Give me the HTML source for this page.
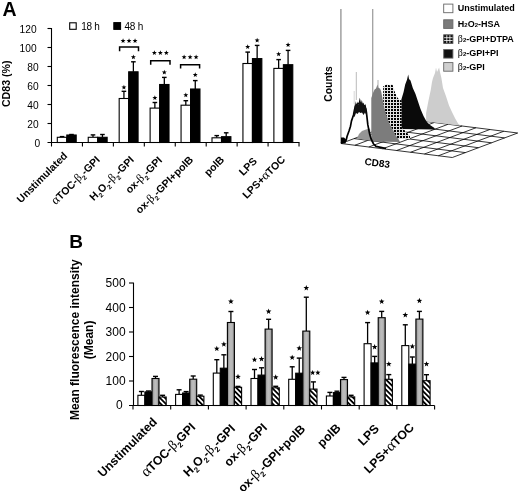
<!DOCTYPE html>
<html><head><meta charset="utf-8"><style>
html,body{margin:0;padding:0;background:#fff;}
svg{display:block;font-family:"Liberation Sans", sans-serif;filter:blur(0.35px);}
</style></head><body>
<svg width="520" height="491" viewBox="0 0 520 491" font-family='"Liberation Sans", sans-serif'>
<rect width="520" height="491" fill="#fff"/>
<defs><pattern id="checker" patternUnits="userSpaceOnUse" width="3" height="3"><rect width="3" height="3" fill="#e0e0e0"/><rect x="1" y="1" width="2" height="2" fill="#000"/></pattern></defs>
<line x1="341.00" y1="143.50" x2="452.30" y2="157.50" stroke="#000" stroke-width="0.8"/>
<line x1="354.08" y1="138.60" x2="465.38" y2="152.60" stroke="#000" stroke-width="0.8"/>
<line x1="367.16" y1="133.70" x2="478.46" y2="147.70" stroke="#000" stroke-width="0.8"/>
<line x1="380.24" y1="128.80" x2="491.54" y2="142.80" stroke="#000" stroke-width="0.8"/>
<line x1="393.32" y1="123.90" x2="504.62" y2="137.90" stroke="#000" stroke-width="0.8"/>
<line x1="406.40" y1="119.00" x2="517.70" y2="133.00" stroke="#000" stroke-width="0.8"/>
<line x1="341.00" y1="143.50" x2="406.40" y2="119.00" stroke="#000" stroke-width="0.8"/>
<line x1="354.91" y1="145.25" x2="420.31" y2="120.75" stroke="#000" stroke-width="0.8"/>
<line x1="368.82" y1="147.00" x2="434.23" y2="122.50" stroke="#000" stroke-width="0.8"/>
<line x1="382.74" y1="148.75" x2="448.14" y2="124.25" stroke="#000" stroke-width="0.8"/>
<line x1="396.65" y1="150.50" x2="462.05" y2="126.00" stroke="#000" stroke-width="0.8"/>
<line x1="410.56" y1="152.25" x2="475.96" y2="127.75" stroke="#000" stroke-width="0.8"/>
<line x1="424.48" y1="154.00" x2="489.88" y2="129.50" stroke="#000" stroke-width="0.8"/>
<line x1="438.39" y1="155.75" x2="503.79" y2="131.25" stroke="#000" stroke-width="0.8"/>
<line x1="452.30" y1="157.50" x2="517.70" y2="133.00" stroke="#000" stroke-width="0.8"/>
<line x1="340.9" y1="9" x2="340.9" y2="143.5" stroke="#999" stroke-width="1.4"/>
<line x1="372.7" y1="9" x2="372.7" y2="100" stroke="#a0a0a0" stroke-width="1.3"/>
<polygon points="426.1,121.5 426.1,113.1 428.4,100.9 430.7,90.2 432,82 433,77.9 435,73 436,67.5 437,72 438,70 439.1,67.5 440,72 441.4,77.9 443,87.9 446,96.3 449,105.5 452.1,112.3 455.2,118.5 458.2,123.8 461,125.8" fill="#cdcdcd"/>
<polygon points="401.3,129 401.3,99.7 403.6,92 405.2,84.4 407,79.8 408.2,74.5 409,79 410.5,80.6 412.8,88 415.5,94 418,101.5 420.5,109 423.5,116 426.5,121.5 430,125 434.5,128 434.5,129.5" fill="#0a0a0a"/>
<polygon points="383.2,139 383.2,86.3 385,85.5 386.5,84 388,84.8 390,85.5 391.5,84 392.5,84.6 393.5,88 395.2,93 397,97 399,99.5 401.5,100.5 401.5,128 404,129.5 407,133 410,135.5 410,139" fill="url(#checker)"/>
<polygon points="371.3,141.5 371.3,97.9 373,93 374.6,89.5 376,88.5 377.5,84.5 378.6,88 380,88.5 381.2,91.5 382.4,98 383.6,105.2 386,114 389.2,123 393,130 395.8,135.6 399,140 400,142" fill="#7c7c7c"/>
<polygon points="357,138.5 359,134 362,131 366,129.5 370,128.5 371.5,141" fill="#959595"/>
<polyline points="341,143.4 346.2,140 347.1,136.3 349,131 350.5,126.2 351.5,120.9 352.5,118 353.5,115 354.5,110 355.5,106 357.5,104 360,103 362.5,104.5 364.5,106 365.8,109 366.5,113 367.8,124.7 369.7,134.3 371.2,139.2 373.6,144 376,146.4 380.8,147.3 386,148.5" fill="none" stroke="#000" stroke-width="1.7" stroke-linejoin="round"/>
<path d="M353.5,116 L354.5,108 L355.2,101 L356,106 L357.2,101.5 L358.2,105 L359.8,97.8 L361,103 L361.8,100 L362.8,104 L363.6,102.5 L364.4,106 L365.5,104 L366.3,108 L366.8,116 L365,112.5 L363.5,115 L362,112.5 L360.5,113 L359,112 L357.5,114 L356,113 L354.5,117 Z" fill="#111"/>
<polygon points="341,137.5 344,137.5 346.5,140 345.5,143.5 341,143.5" fill="#000"/>
<line x1="356.3" y1="72" x2="356.3" y2="100" stroke="#bbb" stroke-width="1"/>
<line x1="354.2" y1="91" x2="354.2" y2="104" stroke="#ccc" stroke-width="0.8"/>
<line x1="378" y1="80" x2="378" y2="88" stroke="#999" stroke-width="0.8"/>
<rect x="443.7" y="4.10" width="9.2" height="8.6" fill="#fff" stroke="#666" stroke-width="0.9"/>
<rect x="443.7" y="19.80" width="9.2" height="8.6" fill="#7a7a7a" stroke="#666" stroke-width="0.9"/>
<rect x="443.7" y="34.80" width="9.2" height="8.6" fill="#111" stroke="#555" stroke-width="0.9"/>
<line x1="446.8" y1="35.20" x2="446.8" y2="43.00" stroke="#fff" stroke-width="0.8"/>
<line x1="449.9" y1="35.20" x2="449.9" y2="43.00" stroke="#fff" stroke-width="0.8"/>
<line x1="444.1" y1="37.70" x2="452.5" y2="37.70" stroke="#fff" stroke-width="0.8"/>
<line x1="444.1" y1="40.50" x2="452.5" y2="40.50" stroke="#fff" stroke-width="0.8"/>
<rect x="443.7" y="49.50" width="9.2" height="8.6" fill="#111" stroke="#666" stroke-width="0.9"/>
<rect x="443.7" y="62.60" width="9.2" height="8.6" fill="#cfcfcf" stroke="#666" stroke-width="0.9"/>
<text id="lg3" x="457.8" y="11.00" font-size="9" font-weight="bold">Unstimulated</text>
<text id="lg19" x="457.8" y="26.70" font-size="9" font-weight="bold"><tspan>H</tspan><tspan font-size="6">2</tspan><tspan>O</tspan><tspan font-size="6">2</tspan><tspan>-HSA</tspan></text>
<text id="lg34" x="457.8" y="41.70" font-size="9" font-weight="bold"><tspan font-family="Liberation Serif, serif" font-weight="normal" font-size="10">β</tspan><tspan font-size="6">2</tspan><tspan>-GPI+DTPA</tspan></text>
<text id="lg49" x="457.8" y="56.40" font-size="9" font-weight="bold"><tspan font-family="Liberation Serif, serif" font-weight="normal" font-size="10">β</tspan><tspan font-size="6">2</tspan><tspan>-GPI+PI</tspan></text>
<text id="lg62" x="457.8" y="69.50" font-size="9" font-weight="bold"><tspan font-family="Liberation Serif, serif" font-weight="normal" font-size="10">β</tspan><tspan font-size="6">2</tspan><tspan>-GPI</tspan></text>
<text id="cnt" transform="translate(332.0,83.9) rotate(-90)" text-anchor="middle" font-size="10.3" font-weight="bold">Counts</text>
<text id="cd" transform="translate(364.2,164.7) rotate(7.4)" font-size="10" font-weight="bold">CD83</text>
<line x1="51.5" y1="28.0" x2="51.5" y2="142.5" stroke="#000" stroke-width="1.1"/>
<line x1="47.5" y1="142.5" x2="299.5" y2="142.5" stroke="#000" stroke-width="1.1"/>
<text id="ya0" x="40.1" y="146.80" text-anchor="end" font-size="10.2" fill="#000">0</text>
<line x1="47.5" y1="123.50" x2="51.5" y2="123.50" stroke="#000" stroke-width="1.1"/>
<text id="ya1" x="38.7" y="127.80" text-anchor="end" font-size="10.2" fill="#000">20</text>
<line x1="47.5" y1="104.50" x2="51.5" y2="104.50" stroke="#000" stroke-width="1.1"/>
<text id="ya2" x="38.7" y="108.80" text-anchor="end" font-size="10.2" fill="#000">40</text>
<line x1="47.5" y1="85.50" x2="51.5" y2="85.50" stroke="#000" stroke-width="1.1"/>
<text id="ya3" x="38.7" y="89.80" text-anchor="end" font-size="10.2" fill="#000">60</text>
<line x1="47.5" y1="66.50" x2="51.5" y2="66.50" stroke="#000" stroke-width="1.1"/>
<text id="ya4" x="38.7" y="70.80" text-anchor="end" font-size="10.2" fill="#000">80</text>
<line x1="47.5" y1="47.50" x2="51.5" y2="47.50" stroke="#000" stroke-width="1.1"/>
<text id="ya5" x="36.6" y="51.80" text-anchor="end" font-size="10.2" fill="#000">100</text>
<line x1="47.5" y1="28.50" x2="51.5" y2="28.50" stroke="#000" stroke-width="1.1"/>
<text id="ya6" x="36.6" y="32.80" text-anchor="end" font-size="10.2" fill="#000">120</text>
<line x1="51.50" y1="142.5" x2="51.50" y2="146.50" stroke="#000" stroke-width="1.1"/>
<line x1="82.44" y1="142.5" x2="82.44" y2="146.50" stroke="#000" stroke-width="1.1"/>
<line x1="113.38" y1="142.5" x2="113.38" y2="146.50" stroke="#000" stroke-width="1.1"/>
<line x1="144.32" y1="142.5" x2="144.32" y2="146.50" stroke="#000" stroke-width="1.1"/>
<line x1="175.26" y1="142.5" x2="175.26" y2="146.50" stroke="#000" stroke-width="1.1"/>
<line x1="206.20" y1="142.5" x2="206.20" y2="146.50" stroke="#000" stroke-width="1.1"/>
<line x1="237.14" y1="142.5" x2="237.14" y2="146.50" stroke="#000" stroke-width="1.1"/>
<line x1="268.08" y1="142.5" x2="268.08" y2="146.50" stroke="#000" stroke-width="1.1"/>
<line x1="299.02" y1="142.5" x2="299.02" y2="146.50" stroke="#000" stroke-width="1.1"/>
<line x1="62.05" y1="136.60" x2="62.05" y2="137.30" stroke="#000" stroke-width="1.3"/><line x1="59.75" y1="136.60" x2="64.35" y2="136.60" stroke="#000" stroke-width="1.4"/>
<line x1="71.50" y1="134.50" x2="71.50" y2="135.00" stroke="#000" stroke-width="1.3"/><line x1="69.20" y1="134.50" x2="73.80" y2="134.50" stroke="#000" stroke-width="1.4"/>
<rect x="57.30" y="137.30" width="9.50" height="5.20" fill="#fff" stroke="#000" stroke-width="1.1"/>
<rect x="66.80" y="135.00" width="9.40" height="7.50" fill="#000" stroke="#000" stroke-width="1.1"/>
<line x1="92.99" y1="134.90" x2="92.99" y2="137.30" stroke="#000" stroke-width="1.3"/><line x1="90.69" y1="134.90" x2="95.29" y2="134.90" stroke="#000" stroke-width="1.4"/>
<line x1="102.44" y1="134.50" x2="102.44" y2="137.30" stroke="#000" stroke-width="1.3"/><line x1="100.14" y1="134.50" x2="104.74" y2="134.50" stroke="#000" stroke-width="1.4"/>
<rect x="88.24" y="137.30" width="9.50" height="5.20" fill="#fff" stroke="#000" stroke-width="1.1"/>
<rect x="97.74" y="137.30" width="9.40" height="5.20" fill="#000" stroke="#000" stroke-width="1.1"/>
<line x1="123.93" y1="91.30" x2="123.93" y2="98.50" stroke="#000" stroke-width="1.3"/><line x1="121.63" y1="91.30" x2="126.23" y2="91.30" stroke="#000" stroke-width="1.4"/>
<line x1="133.38" y1="61.80" x2="133.38" y2="71.80" stroke="#000" stroke-width="1.3"/><line x1="131.08" y1="61.80" x2="135.68" y2="61.80" stroke="#000" stroke-width="1.4"/>
<rect x="119.18" y="98.50" width="9.50" height="44.00" fill="#fff" stroke="#000" stroke-width="1.1"/>
<rect x="128.68" y="71.80" width="9.40" height="70.70" fill="#000" stroke="#000" stroke-width="1.1"/>
<polygon points="123.93,84.70 124.57,86.42 126.40,86.50 124.97,87.64 125.46,89.40 123.93,88.39 122.40,89.40 122.89,87.64 121.46,86.50 123.29,86.42" fill="#000"/>
<polygon points="133.38,54.50 134.02,56.22 135.85,56.30 134.42,57.44 134.91,59.20 133.38,58.19 131.85,59.20 132.34,57.44 130.91,56.30 132.74,56.22" fill="#000"/>
<line x1="154.87" y1="102.50" x2="154.87" y2="108.10" stroke="#000" stroke-width="1.3"/><line x1="152.57" y1="102.50" x2="157.17" y2="102.50" stroke="#000" stroke-width="1.4"/>
<line x1="164.32" y1="77.40" x2="164.32" y2="84.50" stroke="#000" stroke-width="1.3"/><line x1="162.02" y1="77.40" x2="166.62" y2="77.40" stroke="#000" stroke-width="1.4"/>
<rect x="150.12" y="108.10" width="9.50" height="34.40" fill="#fff" stroke="#000" stroke-width="1.1"/>
<rect x="159.62" y="84.50" width="9.40" height="58.00" fill="#000" stroke="#000" stroke-width="1.1"/>
<polygon points="154.87,95.20 155.51,96.92 157.34,97.00 155.91,98.14 156.40,99.90 154.87,98.89 153.34,99.90 153.83,98.14 152.40,97.00 154.23,96.92" fill="#000"/>
<polygon points="164.32,69.80 164.96,71.52 166.79,71.60 165.36,72.74 165.85,74.50 164.32,73.49 162.79,74.50 163.28,72.74 161.85,71.60 163.68,71.52" fill="#000"/>
<line x1="185.81" y1="100.70" x2="185.81" y2="105.20" stroke="#000" stroke-width="1.3"/><line x1="183.51" y1="100.70" x2="188.11" y2="100.70" stroke="#000" stroke-width="1.4"/>
<line x1="195.26" y1="80.60" x2="195.26" y2="89.00" stroke="#000" stroke-width="1.3"/><line x1="192.96" y1="80.60" x2="197.56" y2="80.60" stroke="#000" stroke-width="1.4"/>
<rect x="181.06" y="105.20" width="9.50" height="37.30" fill="#fff" stroke="#000" stroke-width="1.1"/>
<rect x="190.56" y="89.00" width="9.40" height="53.50" fill="#000" stroke="#000" stroke-width="1.1"/>
<polygon points="185.81,92.50 186.45,94.22 188.28,94.30 186.85,95.44 187.34,97.20 185.81,96.19 184.28,97.20 184.77,95.44 183.34,94.30 185.17,94.22" fill="#000"/>
<polygon points="195.26,72.30 195.90,74.02 197.73,74.10 196.30,75.24 196.79,77.00 195.26,75.99 193.73,77.00 194.22,75.24 192.79,74.10 194.62,74.02" fill="#000"/>
<line x1="216.75" y1="135.60" x2="216.75" y2="137.80" stroke="#000" stroke-width="1.3"/><line x1="214.45" y1="135.60" x2="219.05" y2="135.60" stroke="#000" stroke-width="1.4"/>
<line x1="226.20" y1="132.80" x2="226.20" y2="136.70" stroke="#000" stroke-width="1.3"/><line x1="223.90" y1="132.80" x2="228.50" y2="132.80" stroke="#000" stroke-width="1.4"/>
<rect x="212.00" y="137.80" width="9.50" height="4.70" fill="#fff" stroke="#000" stroke-width="1.1"/>
<rect x="221.50" y="136.70" width="9.40" height="5.80" fill="#000" stroke="#000" stroke-width="1.1"/>
<line x1="247.69" y1="52.10" x2="247.69" y2="63.50" stroke="#000" stroke-width="1.3"/><line x1="245.39" y1="52.10" x2="249.99" y2="52.10" stroke="#000" stroke-width="1.4"/>
<line x1="257.14" y1="45.40" x2="257.14" y2="58.60" stroke="#000" stroke-width="1.3"/><line x1="254.84" y1="45.40" x2="259.44" y2="45.40" stroke="#000" stroke-width="1.4"/>
<rect x="242.94" y="63.50" width="9.50" height="79.00" fill="#fff" stroke="#000" stroke-width="1.1"/>
<rect x="252.44" y="58.60" width="9.40" height="83.90" fill="#000" stroke="#000" stroke-width="1.1"/>
<polygon points="247.69,44.20 248.33,45.92 250.16,46.00 248.73,47.14 249.22,48.90 247.69,47.89 246.16,48.90 246.65,47.14 245.22,46.00 247.05,45.92" fill="#000"/>
<polygon points="257.14,37.70 257.78,39.42 259.61,39.50 258.18,40.64 258.67,42.40 257.14,41.39 255.61,42.40 256.10,40.64 254.67,39.50 256.50,39.42" fill="#000"/>
<line x1="278.63" y1="59.60" x2="278.63" y2="68.40" stroke="#000" stroke-width="1.3"/><line x1="276.33" y1="59.60" x2="280.93" y2="59.60" stroke="#000" stroke-width="1.4"/>
<line x1="288.08" y1="50.40" x2="288.08" y2="64.70" stroke="#000" stroke-width="1.3"/><line x1="285.78" y1="50.40" x2="290.38" y2="50.40" stroke="#000" stroke-width="1.4"/>
<rect x="273.88" y="68.40" width="9.50" height="74.10" fill="#fff" stroke="#000" stroke-width="1.1"/>
<rect x="283.38" y="64.70" width="9.40" height="77.80" fill="#000" stroke="#000" stroke-width="1.1"/>
<polygon points="278.63,51.50 279.27,53.22 281.10,53.30 279.67,54.44 280.16,56.20 278.63,55.19 277.10,56.20 277.59,54.44 276.16,53.30 277.99,53.22" fill="#000"/>
<polygon points="288.08,42.30 288.72,44.02 290.55,44.10 289.12,45.24 289.61,47.00 288.08,45.99 286.55,47.00 287.04,45.24 285.61,44.10 287.44,44.02" fill="#000"/>
<polyline points="119.6,51.3 119.6,47.1 138.5,47.1 138.5,51.3" fill="none" stroke="#000" stroke-width="1.5"/>
<polygon points="123.05,38.20 123.69,39.92 125.52,40.00 124.09,41.14 124.58,42.90 123.05,41.89 121.52,42.90 122.01,41.14 120.58,40.00 122.41,39.92" fill="#000"/>
<polygon points="129.05,38.20 129.69,39.92 131.52,40.00 130.09,41.14 130.58,42.90 129.05,41.89 127.52,42.90 128.01,41.14 126.58,40.00 128.41,39.92" fill="#000"/>
<polygon points="135.05,38.20 135.69,39.92 137.52,40.00 136.09,41.14 136.58,42.90 135.05,41.89 133.52,42.90 134.01,41.14 132.58,40.00 134.41,39.92" fill="#000"/>
<polyline points="150.7,64.7 150.7,60.7 170.0,60.7 170.0,64.7" fill="none" stroke="#000" stroke-width="1.5"/>
<polygon points="154.35,50.20 154.99,51.92 156.82,52.00 155.39,53.14 155.88,54.90 154.35,53.89 152.82,54.90 153.31,53.14 151.88,52.00 153.71,51.92" fill="#000"/>
<polygon points="160.35,50.20 160.99,51.92 162.82,52.00 161.39,53.14 161.88,54.90 160.35,53.89 158.82,54.90 159.31,53.14 157.88,52.00 159.71,51.92" fill="#000"/>
<polygon points="166.35,50.20 166.99,51.92 168.82,52.00 167.39,53.14 167.88,54.90 166.35,53.89 164.82,54.90 165.31,53.14 163.88,52.00 165.71,51.92" fill="#000"/>
<polyline points="180.6,68.5 180.6,64.7 199.6,64.7 199.6,68.5" fill="none" stroke="#000" stroke-width="1.5"/>
<polygon points="184.10,54.50 184.74,56.22 186.57,56.30 185.14,57.44 185.63,59.20 184.10,58.19 182.57,59.20 183.06,57.44 181.63,56.30 183.46,56.22" fill="#000"/>
<polygon points="190.10,54.50 190.74,56.22 192.57,56.30 191.14,57.44 191.63,59.20 190.10,58.19 188.57,59.20 189.06,57.44 187.63,56.30 189.46,56.22" fill="#000"/>
<polygon points="196.10,54.50 196.74,56.22 198.57,56.30 197.14,57.44 197.63,59.20 196.10,58.19 194.57,59.20 195.06,57.44 193.63,56.30 195.46,56.22" fill="#000"/>
<rect x="69.7" y="22.8" width="6.5" height="6.5" fill="#fff" stroke="#000" stroke-width="1.1"/>
<text id="l18" x="81.2" y="29.5" font-size="10" letter-spacing="-0.25">18 h</text>
<rect x="113.8" y="22.6" width="6.8" height="6.8" fill="#000" stroke="#000" stroke-width="1"/>
<text id="l48" x="124.5" y="29.5" font-size="10" letter-spacing="-0.25">48 h</text>
<text id="tA" x="2.5" y="15.6" font-size="19.5" font-weight="bold">A</text>
<text id="yA" transform="translate(9.6,83.8) rotate(-90)" text-anchor="middle" font-size="10.6" font-weight="bold">CD83 (%)</text>
<text id="la0" transform="translate(68.12,156.40) rotate(-45)" text-anchor="end" font-size="10.5" font-weight="bold"><tspan>Unstimulated</tspan></text>
<text id="la1" transform="translate(100.61,160.55) rotate(-45)" text-anchor="end" font-size="10.5" font-weight="bold"><tspan font-family="Liberation Serif, serif" font-weight="normal" font-size="12.81">α</tspan><tspan>TOC-</tspan><tspan font-family="Liberation Serif, serif" font-weight="normal" font-size="11.69">β</tspan><tspan dy="2.94" font-size="6.51">2</tspan><tspan dy="-2.94">-GPI</tspan></text>
<text id="la2" transform="translate(134.65,160.55) rotate(-45)" text-anchor="end" font-size="10.5" font-weight="bold"><tspan>H</tspan><tspan dy="2.94" font-size="6.51">2</tspan><tspan dy="-2.94">O</tspan><tspan dy="2.94" font-size="6.51">2</tspan><tspan dy="-2.94">-</tspan><tspan font-family="Liberation Serif, serif" font-weight="normal" font-size="11.69">β</tspan><tspan dy="2.94" font-size="6.51">2</tspan><tspan dy="-2.94">-GPI</tspan></text>
<text id="la3" transform="translate(162.89,160.85) rotate(-45)" text-anchor="end" font-size="10.5" font-weight="bold"><tspan>ox-</tspan><tspan font-family="Liberation Serif, serif" font-weight="normal" font-size="11.69">β</tspan><tspan dy="2.94" font-size="6.51">2</tspan><tspan dy="-2.94">-GPI</tspan></text>
<text id="la4" transform="translate(193.88,160.35) rotate(-45)" text-anchor="end" font-size="10.5" font-weight="bold"><tspan>ox-</tspan><tspan font-family="Liberation Serif, serif" font-weight="normal" font-size="11.69">β</tspan><tspan dy="2.94" font-size="6.51">2</tspan><tspan dy="-2.94">-GPI+polB</tspan></text>
<text id="la5" transform="translate(224.92,160.30) rotate(-45)" text-anchor="end" font-size="10.5" font-weight="bold"><tspan>polB</tspan></text>
<text id="la6" transform="translate(257.61,161.75) rotate(-45)" text-anchor="end" font-size="10.5" font-weight="bold"><tspan>LPS</tspan></text>
<text id="la7" transform="translate(285.90,160.20) rotate(-45)" text-anchor="end" font-size="10.5" font-weight="bold"><tspan>LPS+</tspan><tspan font-family="Liberation Serif, serif" font-weight="normal" font-size="12.81">α</tspan><tspan>TOC</tspan></text>
<defs><linearGradient id="gbar" x1="0" y1="0" x2="1" y2="0"><stop offset="0" stop-color="#7a7a7a"/><stop offset="0.28" stop-color="#b4b4b4"/><stop offset="0.5" stop-color="#bdbdbd"/><stop offset="0.72" stop-color="#b4b4b4"/><stop offset="1" stop-color="#7a7a7a"/></linearGradient><pattern id="hatch" patternUnits="userSpaceOnUse" width="3.6" height="3.6" patternTransform="rotate(-45)"><rect width="3.6" height="3.6" fill="#fff"/><rect width="1.8" height="3.6" fill="#000"/></pattern></defs>
<line x1="133.5" y1="282.50" x2="133.5" y2="405.5" stroke="#000" stroke-width="1.1"/>
<line x1="129" y1="405.5" x2="434.6" y2="405.5" stroke="#000" stroke-width="1.1"/>
<text id="yb0" x="122.6" y="409.10" text-anchor="end" font-size="12">0</text>
<line x1="129" y1="381.00" x2="133" y2="381.00" stroke="#000" stroke-width="1.1"/>
<text id="yb1" x="125.6" y="385.30" text-anchor="end" font-size="12">100</text>
<line x1="129" y1="356.50" x2="133" y2="356.50" stroke="#000" stroke-width="1.1"/>
<text id="yb2" x="125.6" y="360.80" text-anchor="end" font-size="12">200</text>
<line x1="129" y1="332.00" x2="133" y2="332.00" stroke="#000" stroke-width="1.1"/>
<text id="yb3" x="125.6" y="336.30" text-anchor="end" font-size="12">300</text>
<line x1="129" y1="307.50" x2="133" y2="307.50" stroke="#000" stroke-width="1.1"/>
<text id="yb4" x="125.6" y="311.80" text-anchor="end" font-size="12">400</text>
<line x1="129" y1="283.00" x2="133" y2="283.00" stroke="#000" stroke-width="1.1"/>
<text id="yb5" x="125.6" y="287.30" text-anchor="end" font-size="12">500</text>
<line x1="133.00" y1="405.5" x2="133.00" y2="409.50" stroke="#000" stroke-width="1.1"/>
<line x1="170.70" y1="405.5" x2="170.70" y2="409.50" stroke="#000" stroke-width="1.1"/>
<line x1="208.40" y1="405.5" x2="208.40" y2="409.50" stroke="#000" stroke-width="1.1"/>
<line x1="246.10" y1="405.5" x2="246.10" y2="409.50" stroke="#000" stroke-width="1.1"/>
<line x1="283.80" y1="405.5" x2="283.80" y2="409.50" stroke="#000" stroke-width="1.1"/>
<line x1="321.50" y1="405.5" x2="321.50" y2="409.50" stroke="#000" stroke-width="1.1"/>
<line x1="359.20" y1="405.5" x2="359.20" y2="409.50" stroke="#000" stroke-width="1.1"/>
<line x1="396.90" y1="405.5" x2="396.90" y2="409.50" stroke="#000" stroke-width="1.1"/>
<line x1="434.60" y1="405.5" x2="434.60" y2="409.50" stroke="#000" stroke-width="1.1"/>
<line x1="141.40" y1="391.50" x2="141.40" y2="395.30" stroke="#000" stroke-width="1.3"/><line x1="138.90" y1="391.50" x2="143.90" y2="391.50" stroke="#000" stroke-width="1.4"/>
<rect x="137.90" y="395.30" width="7.00" height="10.20" fill="#fff" stroke="#000" stroke-width="1.1"/>
<line x1="148.45" y1="391.00" x2="148.45" y2="391.90" stroke="#000" stroke-width="1.3"/><line x1="145.95" y1="391.00" x2="150.95" y2="391.00" stroke="#000" stroke-width="1.4"/>
<rect x="144.90" y="391.90" width="7.10" height="13.60" fill="#000" stroke="#000" stroke-width="1.1"/>
<line x1="155.50" y1="376.40" x2="155.50" y2="378.50" stroke="#000" stroke-width="1.3"/><line x1="153.00" y1="376.40" x2="158.00" y2="376.40" stroke="#000" stroke-width="1.4"/>
<rect x="152.00" y="378.50" width="7.00" height="27.00" fill="url(#gbar)" stroke="#000" stroke-width="1.1"/>
<line x1="162.60" y1="395.30" x2="162.60" y2="397.00" stroke="#000" stroke-width="1.3"/><line x1="160.10" y1="395.30" x2="165.10" y2="395.30" stroke="#000" stroke-width="1.4"/>
<rect x="159.00" y="397.00" width="7.20" height="8.50" fill="url(#hatch)" stroke="#000" stroke-width="1.1"/>
<line x1="179.10" y1="389.80" x2="179.10" y2="394.40" stroke="#000" stroke-width="1.3"/><line x1="176.60" y1="389.80" x2="181.60" y2="389.80" stroke="#000" stroke-width="1.4"/>
<rect x="175.60" y="394.40" width="7.00" height="11.10" fill="#fff" stroke="#000" stroke-width="1.1"/>
<line x1="186.15" y1="391.60" x2="186.15" y2="393.00" stroke="#000" stroke-width="1.3"/><line x1="183.65" y1="391.60" x2="188.65" y2="391.60" stroke="#000" stroke-width="1.4"/>
<rect x="182.60" y="393.00" width="7.10" height="12.50" fill="#000" stroke="#000" stroke-width="1.1"/>
<line x1="193.20" y1="376.00" x2="193.20" y2="379.20" stroke="#000" stroke-width="1.3"/><line x1="190.70" y1="376.00" x2="195.70" y2="376.00" stroke="#000" stroke-width="1.4"/>
<rect x="189.70" y="379.20" width="7.00" height="26.30" fill="url(#gbar)" stroke="#000" stroke-width="1.1"/>
<line x1="200.30" y1="395.10" x2="200.30" y2="396.20" stroke="#000" stroke-width="1.3"/><line x1="197.80" y1="395.10" x2="202.80" y2="395.10" stroke="#000" stroke-width="1.4"/>
<rect x="196.70" y="396.20" width="7.20" height="9.30" fill="url(#hatch)" stroke="#000" stroke-width="1.1"/>
<line x1="216.80" y1="359.70" x2="216.80" y2="373.10" stroke="#000" stroke-width="1.3"/><line x1="214.30" y1="359.70" x2="219.30" y2="359.70" stroke="#000" stroke-width="1.4"/>
<rect x="213.30" y="373.10" width="7.00" height="32.40" fill="#fff" stroke="#000" stroke-width="1.1"/>
<polygon points="216.80,345.75 217.53,347.70 219.61,347.79 217.98,349.08 218.53,351.09 216.80,349.94 215.07,351.09 215.62,349.08 213.99,347.79 216.07,347.70" fill="#000"/>
<line x1="223.85" y1="354.80" x2="223.85" y2="368.20" stroke="#000" stroke-width="1.3"/><line x1="221.35" y1="354.80" x2="226.35" y2="354.80" stroke="#000" stroke-width="1.4"/>
<rect x="220.30" y="368.20" width="7.10" height="37.30" fill="#000" stroke="#000" stroke-width="1.1"/>
<polygon points="223.85,341.35 224.58,343.30 226.66,343.39 225.03,344.68 225.58,346.69 223.85,345.54 222.12,346.69 222.67,344.68 221.04,343.39 223.12,343.30" fill="#000"/>
<line x1="230.90" y1="311.50" x2="230.90" y2="322.50" stroke="#000" stroke-width="1.3"/><line x1="228.40" y1="311.50" x2="233.40" y2="311.50" stroke="#000" stroke-width="1.4"/>
<rect x="227.40" y="322.50" width="7.00" height="83.00" fill="url(#gbar)" stroke="#000" stroke-width="1.1"/>
<polygon points="230.90,298.55 231.63,300.50 233.71,300.59 232.08,301.88 232.63,303.89 230.90,302.74 229.17,303.89 229.72,301.88 228.09,300.59 230.17,300.50" fill="#000"/>
<line x1="238.00" y1="386.40" x2="238.00" y2="387.30" stroke="#000" stroke-width="1.3"/><line x1="235.50" y1="386.40" x2="240.50" y2="386.40" stroke="#000" stroke-width="1.4"/>
<rect x="234.40" y="387.30" width="7.20" height="18.20" fill="url(#hatch)" stroke="#000" stroke-width="1.1"/>
<polygon points="238.00,373.85 238.73,375.80 240.81,375.89 239.18,377.18 239.73,379.19 238.00,378.04 236.27,379.19 236.82,377.18 235.19,375.89 237.27,375.80" fill="#000"/>
<line x1="254.50" y1="369.50" x2="254.50" y2="378.50" stroke="#000" stroke-width="1.3"/><line x1="252.00" y1="369.50" x2="257.00" y2="369.50" stroke="#000" stroke-width="1.4"/>
<rect x="251.00" y="378.50" width="7.00" height="27.00" fill="#fff" stroke="#000" stroke-width="1.1"/>
<polygon points="254.50,356.75 255.23,358.70 257.31,358.79 255.68,360.08 256.23,362.09 254.50,360.94 252.77,362.09 253.32,360.08 251.69,358.79 253.77,358.70" fill="#000"/>
<line x1="261.55" y1="367.80" x2="261.55" y2="375.10" stroke="#000" stroke-width="1.3"/><line x1="259.05" y1="367.80" x2="264.05" y2="367.80" stroke="#000" stroke-width="1.4"/>
<rect x="258.00" y="375.10" width="7.10" height="30.40" fill="#000" stroke="#000" stroke-width="1.1"/>
<polygon points="261.55,356.05 262.28,358.00 264.36,358.09 262.73,359.38 263.28,361.39 261.55,360.24 259.82,361.39 260.37,359.38 258.74,358.09 260.82,358.00" fill="#000"/>
<line x1="268.60" y1="319.30" x2="268.60" y2="329.10" stroke="#000" stroke-width="1.3"/><line x1="266.10" y1="319.30" x2="271.10" y2="319.30" stroke="#000" stroke-width="1.4"/>
<rect x="265.10" y="329.10" width="7.00" height="76.40" fill="url(#gbar)" stroke="#000" stroke-width="1.1"/>
<polygon points="268.60,308.55 269.33,310.50 271.41,310.59 269.78,311.88 270.33,313.89 268.60,312.74 266.87,313.89 267.42,311.88 265.79,310.59 267.87,310.50" fill="#000"/>
<line x1="275.70" y1="386.30" x2="275.70" y2="387.80" stroke="#000" stroke-width="1.3"/><line x1="273.20" y1="386.30" x2="278.20" y2="386.30" stroke="#000" stroke-width="1.4"/>
<rect x="272.10" y="387.80" width="7.20" height="17.70" fill="url(#hatch)" stroke="#000" stroke-width="1.1"/>
<polygon points="275.70,374.35 276.43,376.30 278.51,376.39 276.88,377.68 277.43,379.69 275.70,378.54 273.97,379.69 274.52,377.68 272.89,376.39 274.97,376.30" fill="#000"/>
<line x1="292.20" y1="366.80" x2="292.20" y2="379.30" stroke="#000" stroke-width="1.3"/><line x1="289.70" y1="366.80" x2="294.70" y2="366.80" stroke="#000" stroke-width="1.4"/>
<rect x="288.70" y="379.30" width="7.00" height="26.20" fill="#fff" stroke="#000" stroke-width="1.1"/>
<polygon points="292.20,354.65 292.93,356.60 295.01,356.69 293.38,357.98 293.93,359.99 292.20,358.84 290.47,359.99 291.02,357.98 289.39,356.69 291.47,356.60" fill="#000"/>
<line x1="299.25" y1="358.10" x2="299.25" y2="373.20" stroke="#000" stroke-width="1.3"/><line x1="296.75" y1="358.10" x2="301.75" y2="358.10" stroke="#000" stroke-width="1.4"/>
<rect x="295.70" y="373.20" width="7.10" height="32.30" fill="#000" stroke="#000" stroke-width="1.1"/>
<polygon points="299.25,345.35 299.98,347.30 302.06,347.39 300.43,348.68 300.98,350.69 299.25,349.54 297.52,350.69 298.07,348.68 296.44,347.39 298.52,347.30" fill="#000"/>
<line x1="306.30" y1="297.20" x2="306.30" y2="331.10" stroke="#000" stroke-width="1.3"/><line x1="303.80" y1="297.20" x2="308.80" y2="297.20" stroke="#000" stroke-width="1.4"/>
<rect x="302.80" y="331.10" width="7.00" height="74.40" fill="url(#gbar)" stroke="#000" stroke-width="1.1"/>
<polygon points="306.30,285.05 307.03,287.00 309.11,287.09 307.48,288.38 308.03,290.39 306.30,289.24 304.57,290.39 305.12,288.38 303.49,287.09 305.57,287.00" fill="#000"/>
<line x1="313.40" y1="381.90" x2="313.40" y2="389.10" stroke="#000" stroke-width="1.3"/><line x1="310.90" y1="381.90" x2="315.90" y2="381.90" stroke="#000" stroke-width="1.4"/>
<rect x="309.80" y="389.10" width="7.20" height="16.40" fill="url(#hatch)" stroke="#000" stroke-width="1.1"/>
<polygon points="312.65,369.90 313.34,371.75 315.31,371.83 313.77,373.06 314.30,374.97 312.65,373.88 311.00,374.97 311.53,373.06 309.99,371.83 311.96,371.75" fill="#000"/>
<polygon points="317.85,369.90 318.54,371.75 320.51,371.83 318.97,373.06 319.50,374.97 317.85,373.88 316.20,374.97 316.73,373.06 315.19,371.83 317.16,371.75" fill="#000"/>
<line x1="329.90" y1="392.40" x2="329.90" y2="396.00" stroke="#000" stroke-width="1.3"/><line x1="327.40" y1="392.40" x2="332.40" y2="392.40" stroke="#000" stroke-width="1.4"/>
<rect x="326.40" y="396.00" width="7.00" height="9.50" fill="#fff" stroke="#000" stroke-width="1.1"/>
<line x1="336.95" y1="391.20" x2="336.95" y2="392.60" stroke="#000" stroke-width="1.3"/><line x1="334.45" y1="391.20" x2="339.45" y2="391.20" stroke="#000" stroke-width="1.4"/>
<rect x="333.40" y="392.60" width="7.10" height="12.90" fill="#000" stroke="#000" stroke-width="1.1"/>
<line x1="344.00" y1="377.40" x2="344.00" y2="379.60" stroke="#000" stroke-width="1.3"/><line x1="341.50" y1="377.40" x2="346.50" y2="377.40" stroke="#000" stroke-width="1.4"/>
<rect x="340.50" y="379.60" width="7.00" height="25.90" fill="url(#gbar)" stroke="#000" stroke-width="1.1"/>
<line x1="351.10" y1="395.30" x2="351.10" y2="396.90" stroke="#000" stroke-width="1.3"/><line x1="348.60" y1="395.30" x2="353.60" y2="395.30" stroke="#000" stroke-width="1.4"/>
<rect x="347.50" y="396.90" width="7.20" height="8.60" fill="url(#hatch)" stroke="#000" stroke-width="1.1"/>
<line x1="367.60" y1="322.60" x2="367.60" y2="343.70" stroke="#000" stroke-width="1.3"/><line x1="365.10" y1="322.60" x2="370.10" y2="322.60" stroke="#000" stroke-width="1.4"/>
<rect x="364.10" y="343.70" width="7.00" height="61.80" fill="#fff" stroke="#000" stroke-width="1.1"/>
<polygon points="367.60,309.65 368.33,311.60 370.41,311.69 368.78,312.98 369.33,314.99 367.60,313.84 365.87,314.99 366.42,312.98 364.79,311.69 366.87,311.60" fill="#000"/>
<line x1="374.65" y1="356.40" x2="374.65" y2="362.90" stroke="#000" stroke-width="1.3"/><line x1="372.15" y1="356.40" x2="377.15" y2="356.40" stroke="#000" stroke-width="1.4"/>
<rect x="371.10" y="362.90" width="7.10" height="42.60" fill="#000" stroke="#000" stroke-width="1.1"/>
<polygon points="374.65,344.05 375.38,346.00 377.46,346.09 375.83,347.38 376.38,349.39 374.65,348.24 372.92,349.39 373.47,347.38 371.84,346.09 373.92,346.00" fill="#000"/>
<line x1="381.70" y1="311.40" x2="381.70" y2="317.70" stroke="#000" stroke-width="1.3"/><line x1="379.20" y1="311.40" x2="384.20" y2="311.40" stroke="#000" stroke-width="1.4"/>
<rect x="378.20" y="317.70" width="7.00" height="87.80" fill="url(#gbar)" stroke="#000" stroke-width="1.1"/>
<polygon points="381.70,298.65 382.43,300.60 384.51,300.69 382.88,301.98 383.43,303.99 381.70,302.84 379.97,303.99 380.52,301.98 378.89,300.69 380.97,300.60" fill="#000"/>
<line x1="388.80" y1="374.60" x2="388.80" y2="379.30" stroke="#000" stroke-width="1.3"/><line x1="386.30" y1="374.60" x2="391.30" y2="374.60" stroke="#000" stroke-width="1.4"/>
<rect x="385.20" y="379.30" width="7.20" height="26.20" fill="url(#hatch)" stroke="#000" stroke-width="1.1"/>
<polygon points="388.80,361.15 389.53,363.10 391.61,363.19 389.98,364.48 390.53,366.49 388.80,365.34 387.07,366.49 387.62,364.48 385.99,363.19 388.07,363.10" fill="#000"/>
<line x1="405.30" y1="324.80" x2="405.30" y2="345.60" stroke="#000" stroke-width="1.3"/><line x1="402.80" y1="324.80" x2="407.80" y2="324.80" stroke="#000" stroke-width="1.4"/>
<rect x="401.80" y="345.60" width="7.00" height="59.90" fill="#fff" stroke="#000" stroke-width="1.1"/>
<polygon points="405.30,312.05 406.03,314.00 408.11,314.09 406.48,315.38 407.03,317.39 405.30,316.24 403.57,317.39 404.12,315.38 402.49,314.09 404.57,314.00" fill="#000"/>
<line x1="412.35" y1="357.00" x2="412.35" y2="364.10" stroke="#000" stroke-width="1.3"/><line x1="409.85" y1="357.00" x2="414.85" y2="357.00" stroke="#000" stroke-width="1.4"/>
<rect x="408.80" y="364.10" width="7.10" height="41.40" fill="#000" stroke="#000" stroke-width="1.1"/>
<polygon points="412.35,343.45 413.08,345.40 415.16,345.49 413.53,346.78 414.08,348.79 412.35,347.64 410.62,348.79 411.17,346.78 409.54,345.49 411.62,345.40" fill="#000"/>
<line x1="419.40" y1="311.40" x2="419.40" y2="319.10" stroke="#000" stroke-width="1.3"/><line x1="416.90" y1="311.40" x2="421.90" y2="311.40" stroke="#000" stroke-width="1.4"/>
<rect x="415.90" y="319.10" width="7.00" height="86.40" fill="url(#gbar)" stroke="#000" stroke-width="1.1"/>
<polygon points="419.40,297.85 420.13,299.80 422.21,299.89 420.58,301.18 421.13,303.19 419.40,302.04 417.67,303.19 418.22,301.18 416.59,299.89 418.67,299.80" fill="#000"/>
<line x1="426.50" y1="374.70" x2="426.50" y2="380.70" stroke="#000" stroke-width="1.3"/><line x1="424.00" y1="374.70" x2="429.00" y2="374.70" stroke="#000" stroke-width="1.4"/>
<rect x="422.90" y="380.70" width="7.20" height="24.80" fill="url(#hatch)" stroke="#000" stroke-width="1.1"/>
<polygon points="426.50,361.15 427.23,363.10 429.31,363.19 427.68,364.48 428.23,366.49 426.50,365.34 424.77,366.49 425.32,364.48 423.69,363.19 425.77,363.10" fill="#000"/>
<text id="lb0" transform="translate(157.75,422.65) rotate(-45)" text-anchor="end" font-size="12.3" font-weight="bold"><tspan>Unstimulated</tspan></text>
<text id="lb1" transform="translate(196.10,427.90) rotate(-45)" text-anchor="end" font-size="12.3" font-weight="bold"><tspan font-family="Liberation Serif, serif" font-weight="normal" font-size="15.01">α</tspan><tspan>TOC-</tspan><tspan font-family="Liberation Serif, serif" font-weight="normal" font-size="13.69">β</tspan><tspan dy="3.44" font-size="7.63">2</tspan><tspan dy="-3.44">GPI</tspan></text>
<text id="lb2" transform="translate(236.00,429.35) rotate(-45)" text-anchor="end" font-size="12.3" font-weight="bold"><tspan>H</tspan><tspan dy="3.44" font-size="7.63">2</tspan><tspan dy="-3.44">O</tspan><tspan dy="3.44" font-size="7.63">2</tspan><tspan dy="-3.44">-</tspan><tspan font-family="Liberation Serif, serif" font-weight="normal" font-size="13.69">β</tspan><tspan dy="3.44" font-size="7.63">2</tspan><tspan dy="-3.44">-GPI</tspan></text>
<text id="lb3" transform="translate(267.90,428.30) rotate(-45)" text-anchor="end" font-size="12.3" font-weight="bold"><tspan>ox-</tspan><tspan font-family="Liberation Serif, serif" font-weight="normal" font-size="13.69">β</tspan><tspan dy="3.44" font-size="7.63">2</tspan><tspan dy="-3.44">-GPI</tspan></text>
<text id="lb4" transform="translate(306.15,429.70) rotate(-45)" text-anchor="end" font-size="12.3" font-weight="bold"><tspan>ox-</tspan><tspan font-family="Liberation Serif, serif" font-weight="normal" font-size="13.69">β</tspan><tspan dy="3.44" font-size="7.63">2</tspan><tspan dy="-3.44">-GPI+polB</tspan></text>
<text id="lb5" transform="translate(341.55,428.60) rotate(-45)" text-anchor="end" font-size="12.3" font-weight="bold"><tspan>polB</tspan></text>
<text id="lb6" transform="translate(379.80,429.35) rotate(-45)" text-anchor="end" font-size="12.3" font-weight="bold"><tspan>LPS</tspan></text>
<text id="lb7" transform="translate(414.85,428.20) rotate(-45)" text-anchor="end" font-size="12.3" font-weight="bold"><tspan>LPS+</tspan><tspan font-family="Liberation Serif, serif" font-weight="normal" font-size="15.01">α</tspan><tspan>TOC</tspan></text>
<text id="tB" x="69.3" y="248.2" font-size="19" font-weight="bold">B</text>
<text id="yB1" transform="translate(79.4,339.6) rotate(-90)" text-anchor="middle" font-size="12" font-weight="bold">Mean fluorescence intensity</text>
<text id="yB2" transform="translate(92.9,339.9) rotate(-90)" text-anchor="middle" font-size="12" font-weight="bold">(Mean)</text>
</svg>
</body></html>
